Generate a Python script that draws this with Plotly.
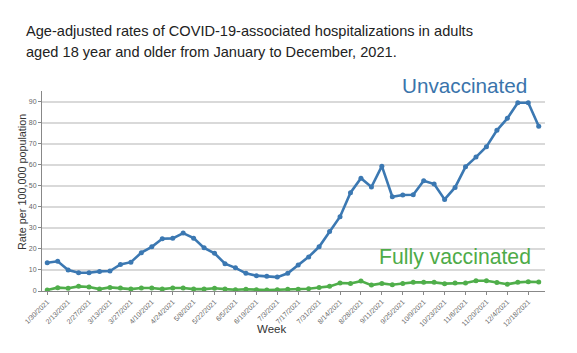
import plotly.graph_objects as go
import pandas as pd

weeks = [d.strftime("%-m/%-d/%Y") for d in pd.date_range("2021-01-30", periods=48, freq="7D")]
tick_labels = weeks[::2]

unvaccinated = [13.4, 14.1, 10.0, 8.7, 8.7, 9.3, 9.5, 12.6, 13.7, 18.2, 21.0, 24.8,
                25.0, 27.5, 25.1, 20.5, 17.9, 13.0, 11.0, 8.4, 7.3, 7.0, 6.6, 8.4,
                12.3, 16.2, 21.0, 28.3, 35.3, 46.7, 53.6, 49.4, 59.3, 44.8, 45.6, 45.7,
                52.4, 50.8, 43.5, 49.2, 59.0, 63.6, 68.5, 76.3, 82.0, 89.4, 89.4, 78.3]
fully_vaccinated = [0.5, 1.6, 1.3, 2.2, 1.9, 0.9, 1.7, 1.4, 0.9, 1.4, 1.4, 0.9,
                    1.4, 1.4, 0.9, 0.9, 1.3, 0.9, 0.6, 0.8, 0.6, 0.5, 0.6, 0.8,
                    0.8, 1.1, 1.7, 2.2, 3.8, 3.6, 4.7, 2.8, 3.6, 3.0, 3.6, 4.1,
                    4.1, 4.1, 3.5, 3.8, 3.8, 4.9, 4.9, 4.0, 3.2, 4.1, 4.4, 4.3]

blue = "#3b78b2"
green = "#4fae4a"
font = "Liberation Sans, Arial, Helvetica, sans-serif"

fig = go.Figure()
fig.add_trace(go.Scatter(x=weeks, y=unvaccinated, mode="lines+markers",
                         line=dict(color=blue, width=2.6),
                         marker=dict(color=blue, size=5), name="Unvaccinated"))
fig.add_trace(go.Scatter(x=weeks, y=fully_vaccinated, mode="lines+markers",
                         line=dict(color=green, width=2.6),
                         marker=dict(color=green, size=5), name="Fully vaccinated"))

fig.update_layout(
    width=577, height=353,
    margin=dict(l=42, r=32, t=91, b=62),
    paper_bgcolor="white", plot_bgcolor="white",
    showlegend=False,
    font=dict(family=font, color="#555"),
    xaxis=dict(type="category", range=[-0.5, 47.6],
               tickmode="array", tickvals=tick_labels, ticktext=tick_labels,
               tickangle=-45, tickfont=dict(size=7, color="#666"),
               ticks="outside", ticklen=3, tickcolor="#888",
               showgrid=False, showline=True, linecolor="#888", linewidth=1),
    yaxis=dict(range=[0, 95], tickvals=[0, 10, 20, 30, 40, 50, 60, 70, 80, 90],
               tickfont=dict(size=7, color="#666"),
               ticks="outside", ticklen=3, tickcolor="#888",
               showgrid=True, gridcolor="#d9d9d9", gridwidth=1.5,
               zeroline=False, showline=True, linecolor="#888", linewidth=1),
    annotations=[
        dict(text="Age-adjusted rates of COVID-19-associated hospitalizations in adults",
             xref="paper", yref="paper", x=(24 - 42) / 503, y=(353 - 62 - 31) / 200,
             xanchor="left", yanchor="middle", showarrow=False,
             font=dict(size=14.6, color="#222", family=font)),
        dict(text="aged 18 year and older from January to December, 2021.",
             xref="paper", yref="paper", x=(24 - 42) / 503, y=(353 - 62 - 52) / 200,
             xanchor="left", yanchor="middle", showarrow=False,
             font=dict(size=14.6, color="#222", family=font)),
        dict(text="Unvaccinated", xref="paper", yref="paper",
             x=(464 - 42) / 503, y=(291 - 85) / 200, xanchor="center", yanchor="middle",
             showarrow=False, font=dict(size=20.7, color="#3a74ab", family=font)),
        dict(text="Fully vaccinated", xref="paper", yref="paper",
             x=(455 - 42) / 503, y=(291 - 257) / 200, xanchor="center", yanchor="middle",
             showarrow=False, font=dict(size=21.2, color="#4eab48", family=font)),
        dict(text="Week", xref="paper", yref="paper",
             x=(271 - 42) / 503, y=(291 - 329) / 200, xanchor="center", yanchor="middle",
             showarrow=False, font=dict(size=11.5, color="#333", family=font)),
        dict(text="Rate per 100,000 population", xref="paper", yref="paper",
             x=(22 - 42) / 503, y=(291 - 182) / 200, xanchor="center", yanchor="middle",
             textangle=-90, showarrow=False, font=dict(size=10.8, color="#333", family=font)),
    ],
)

fig.write_html("out.html")
